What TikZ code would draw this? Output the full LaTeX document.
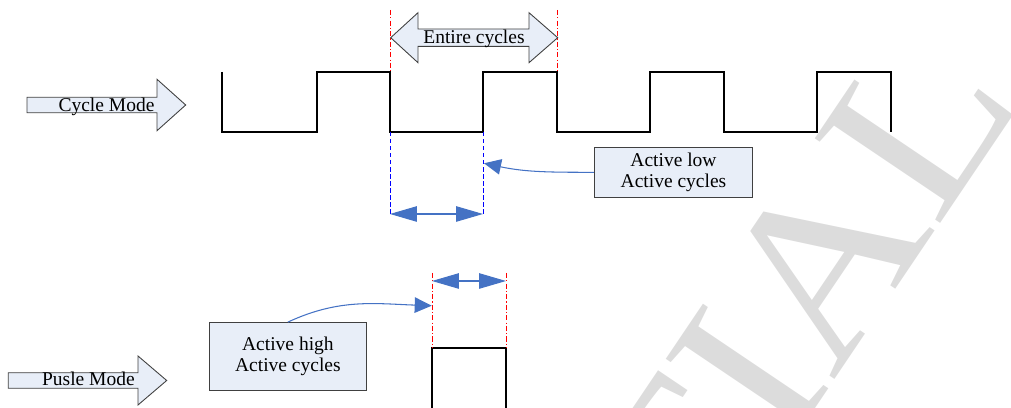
\documentclass[tikz,border=0pt]{standalone}
\usepackage{fontspec}
\setmainfont{Liberation Serif}
\usetikzlibrary{arrows.meta}
\definecolor{boxfill}{RGB}{232,238,248}
\definecolor{conblue}{RGB}{68,114,196}
\definecolor{wmgray}{RGB}{220,220,220}
\begin{document}
\begin{tikzpicture}[x=0.02cm, y=0.02cm,
    every node/.style={font=\fontsize{11.1}{12.4}\selectfont},
    wave/.style={line width=1.2pt, line join=miter},
    redline/.style={red, line width=0.5pt, dash pattern=on 3pt off 1.2pt on 0.6pt off 1.2pt},
    blueline/.style={blue, line width=0.5pt, dash pattern=on 2.5pt off 1.5pt},
    flag/.style={draw=black!75, fill=boxfill, line width=0.5pt},
    callout/.style={draw=black!75, fill=boxfill, line width=0.5pt, align=center, inner sep=0pt},
    span/.style={conblue, line width=0.6pt, {Triangle[length=5.4mm,width=3.1mm]}-{Triangle[length=5.4mm,width=3.1mm]}},
    link/.style={conblue, line width=0.6pt, -{Triangle[length=3.4mm,width=3.1mm]}}]
  \useasboundingbox (0,0) rectangle (1011,408);

  % mode arrows
  \draw[flag] (27,310.7) -- (157,310.7) -- (157,328.7) -- (185.7,303) -- (157,277.3) -- (157,295.3) -- (27,295.3) -- cycle;
  \node[anchor=base] (cyclemode) at (106.5,296.3) {Cycle Mode};
  \draw[flag] (8.3,35.3) -- (138,35.3) -- (138,52) -- (166.7,27.5) -- (138,3) -- (138,19.7) -- (8.3,19.7) -- cycle;
  \node[anchor=base] (pulsemode) at (88.4,22) {Pusle Mode};

  % cycle mode wave
  \draw[wave] (222,336) -- (222,276) -- (317,276) -- (317,336) -- (390,336) -- (390,276) -- (483,276) -- (483,336)
    -- (557,336) -- (557,276) -- (650,276) -- (650,336) -- (724,336) -- (724,276) -- (817,276) -- (817,336)
    -- (891,336) -- (891,276);

  % entire cycles
  \coordinate (e1) at (390,398);
  \coordinate (e2) at (557,398);
  \draw[redline] (e1) -- (390,336);
  \draw[redline] (e2) -- (557,336);
  \draw[flag] (390.7,370.3) -- (418,395.3) -- (418,379) -- (529,379) -- (529,395.3) -- (557.7,370.3)
    -- (529,345.3) -- (529,361.6) -- (418,361.6) -- (418,345.3) -- cycle;
  \node[anchor=base] (entire) at (474,364.7) {Entire cycles};

  % active low
  \coordinate (lo1) at (390,194);
  \coordinate (lo2) at (483,194);
  \draw[blueline] (390,276) -- (lo1);
  \draw[blueline] (483,276) -- (lo2);
  \draw[span] (lo1) -- (lo2);
  \node[callout, minimum width=3.17cm, minimum height=1cm] (lowbox) at (673.5,235.7) {Active low\\Active cycles};
  \coordinate (lowtip) at (484,244.7);
  \draw[link] (lowbox.west) to[out=180, in=-12] (lowtip);

  % pulse mode
  \draw[wave] (432,0) -- (432,60) -- (506,60) -- (506,0);
  \coordinate (hi1) at (432,127);
  \coordinate (hi2) at (506,127);
  \draw[redline] (432,135) -- (432,60);
  \draw[redline] (506,135) -- (506,60);
  \draw[span] (hi1) -- (hi2);
  \node[callout, minimum width=3.15cm, minimum height=1.35cm] (highbox) at (287.9,51.7) {Active high\\Active cycles};
  \coordinate (hightip) at (431.7,102.3);
  \draw[link] (highbox.north) to[out=25, in=178] (hightip);

  % watermark
  \begin{scope}
    \clip (0,0) rectangle (1011,408);
    \node[text=wmgray, inner sep=0pt, anchor=base east, rotate=56, xscale=1.1,
      font=\fontsize{131.5}{131.5}\selectfont] (stamp) at (1023.6,307.6) {CONFIDENTIAL};
  \end{scope}
\end{tikzpicture}
\end{document}
